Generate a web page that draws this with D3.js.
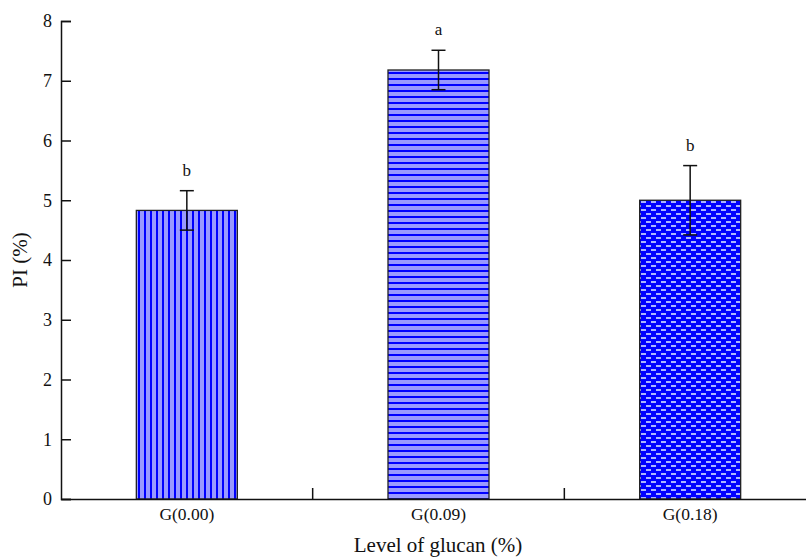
<!DOCTYPE html>
<html><head><meta charset="utf-8">
<script src="https://cdn.jsdelivr.net/npm/d3@7"></script>
<style>body{margin:0;background:#fff}svg{display:block}text{font-family:"Liberation Serif","Times New Roman",serif;fill:#111}</style>
</head><body><svg id="c" width="806" height="558"></svg>
<script>
const categories = ["G(0.00)", "G(0.09)", "G(0.18)"];
const values = [4.83, 7.18, 5.0];
const errors = [0.33, 0.33, 0.58];
const letters = ["b", "a", "b"];
const yTicks = [0,1,2,3,4,5,6,7,8];
const patterns = ["pv", "ph", "pd"];

const svg = d3.select("#c");
const x = d3.scaleBand().domain(categories).range([61, 816]).paddingInner(0).paddingOuter(0);
const y = d3.scaleLinear().domain([0, 8]).range([499, 21]);

const defs = svg.append("defs");
let p = defs.append("pattern").attr("id","pv").attr("patternUnits","userSpaceOnUse").attr("width",6).attr("height",6);
p.append("rect").attr("width",6).attr("height",6).attr("fill","#9999ff");
p.append("rect").attr("x",0).attr("width",2).attr("height",6).attr("fill","#0000ff");
p = defs.append("pattern").attr("id","ph").attr("patternUnits","userSpaceOnUse").attr("width",6).attr("height",6);
p.append("rect").attr("width",6).attr("height",6).attr("fill","#9999ff");
p.append("rect").attr("y",0).attr("width",6).attr("height",2).attr("fill","#0000ff");
p = defs.append("pattern").attr("id","pd").attr("patternUnits","userSpaceOnUse").attr("width",10).attr("height",8);
p.append("rect").attr("width",10).attr("height",8).attr("fill","#0000ff");
p.append("rect").attr("x",1).attr("y",1).attr("width",5).attr("height",2).attr("fill","#aab4ff");
p.append("rect").attr("x",6).attr("y",5).attr("width",5).attr("height",2).attr("fill","#aab4ff");
p.append("rect").attr("x",-4).attr("y",5).attr("width",5).attr("height",2).attr("fill","#aab4ff");

const bw = 101;
const g = svg.append("g");
categories.forEach((c, i) => {
  const cx = x(c) + x.bandwidth()/2;
  g.append("rect").attr("x", cx - bw/2).attr("y", y(values[i])).attr("width", bw)
    .attr("height", y(0) - y(values[i])).attr("fill", `url(#${patterns[i]})`)
    .attr("stroke", "#222").attr("stroke-width", 1.3);
  const t = y(values[i] + errors[i]), b = y(values[i] - errors[i]);
  g.append("line").attr("x1", cx).attr("x2", cx).attr("y1", t).attr("y2", b).attr("stroke","#111").attr("stroke-width",1.5);
  g.append("line").attr("x1", cx-7).attr("x2", cx+7).attr("y1", t).attr("y2", t).attr("stroke","#111").attr("stroke-width",1.5);
  g.append("line").attr("x1", cx-7).attr("x2", cx+7).attr("y1", b).attr("y2", b).attr("stroke","#111").attr("stroke-width",1.5);
  g.append("text").attr("x", cx).attr("y", t - 15).attr("text-anchor","middle").attr("font-size",17).text(letters[i]);
});

const ya = svg.append("g").attr("transform","translate(61,0)")
  .call(d3.axisLeft(y).tickValues(yTicks).tickSize(-10).tickPadding(9).tickFormat(d3.format("d")));
ya.select(".domain").attr("stroke","#111").attr("stroke-width",1.5);
ya.selectAll(".tick line").attr("stroke","#111").attr("stroke-width",1.5);
ya.selectAll("text").attr("font-size",18).attr("font-family","Liberation Serif").attr("fill","#111");

const xa = svg.append("g").attr("transform","translate(0,499)")
  .call(d3.axisBottom(x).tickSize(0).tickPadding(9));
xa.select(".domain").attr("stroke","#111").attr("stroke-width",1.5);
xa.selectAll("text").attr("font-size",17.5).attr("font-family","Liberation Serif").attr("fill","#111");
const bounds = categories.slice(1).map(c => x(c));
svg.append("g").selectAll("line").data(bounds).join("line")
  .attr("x1", d => d).attr("x2", d => d).attr("y1", 499).attr("y2", 488)
  .attr("stroke","#111").attr("stroke-width",1.5);

svg.append("text").attr("x", 438).attr("y", 552).attr("text-anchor","middle").attr("font-size",21).text("Level of glucan (%)");
svg.append("text").attr("transform","translate(27,260) rotate(-90)").attr("text-anchor","middle").attr("font-size",21).text("PI (%)");
</script></body></html>
